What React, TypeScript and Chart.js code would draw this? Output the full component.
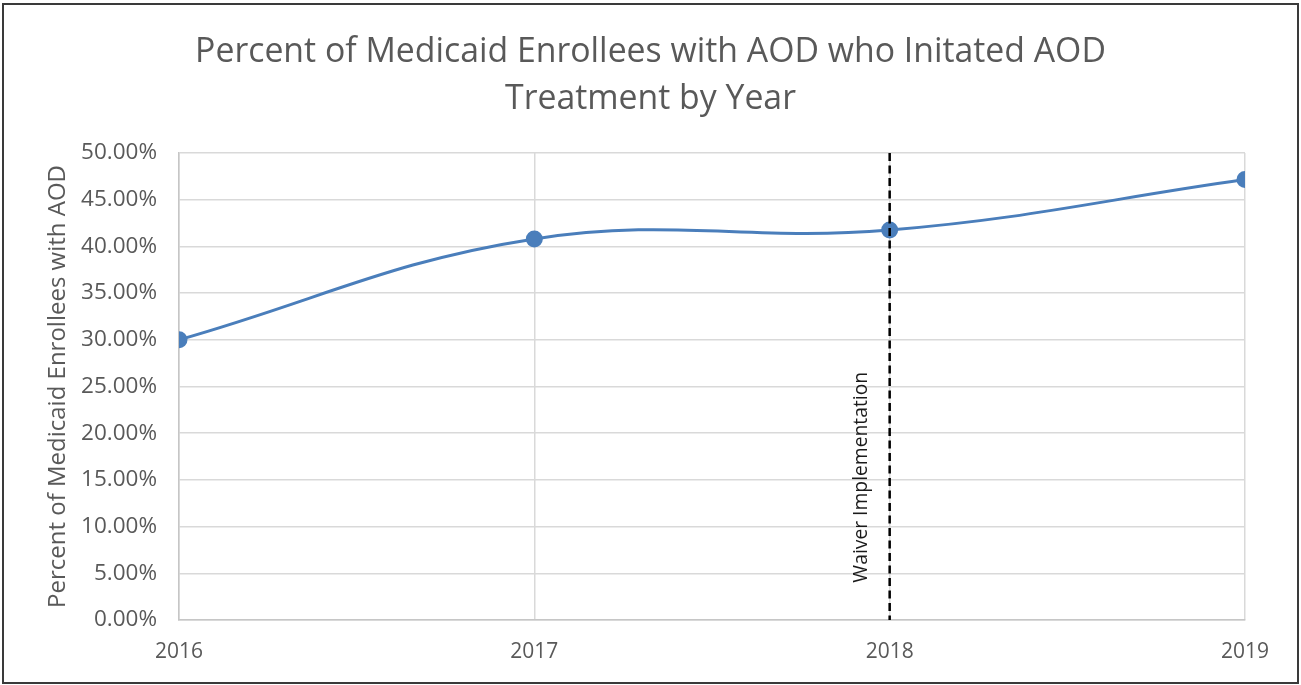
import React, { useEffect, useRef } from "react";
import { Chart, registerables } from "chart.js";

Chart.register(...registerables);

const years = [2016, 2017, 2018, 2019];
const initiationRates = [30.0, 40.8, 41.75, 47.15];
const yMin = 0;
const yMax = 50;
const yStep = 5;
const waiverYear = 2018;
const waiverLabel = "Waiver Implementation";
const waiverLabelStart = 4;
const titleLines = [
  "Percent of Medicaid Enrollees with AOD who Initated AOD",
  "Treatment by Year",
];
const yAxisTitle = "Percent of Medicaid Enrollees with AOD";

const FONT = "'Open Sans', Lato, sans-serif";
const TEXT = "#595959";
const LINE = "#4A7EBB";

const waiverPlugin = {
  id: "waiverLine",
  afterDatasetsDraw(chart: any) {
    const { ctx, chartArea, scales } = chart;
    const x = scales.x.getPixelForValue(waiverYear);
    ctx.save();
    ctx.strokeStyle = "#000";
    ctx.lineWidth = 2.5;
    ctx.setLineDash([8, 4.5]);
    ctx.beginPath();
    ctx.moveTo(x, chartArea.top);
    ctx.lineTo(x, chartArea.bottom);
    ctx.stroke();
    ctx.setLineDash([]);
    const y = scales.y.getPixelForValue(waiverLabelStart);
    ctx.translate(x - 28, y);
    ctx.rotate(-Math.PI / 2);
    ctx.fillStyle = "#1a1a1a";
    ctx.font = `19.3px ${FONT}`;
    ctx.textAlign = "left";
    ctx.textBaseline = "middle";
    ctx.fillText(waiverLabel, 0, 0);
    ctx.restore();
  },
};

export default function App() {
  const ref = useRef<HTMLCanvasElement | null>(null);

  useEffect(() => {
    if (!ref.current) return;
    const chart = new Chart(ref.current, {
      type: "line",
      data: {
        datasets: [
          {
            label: "Initiation",
            data: years.map((yr, i) => ({ x: yr, y: initiationRates[i] })),
            borderColor: LINE,
            backgroundColor: LINE,
            borderWidth: 3,
            pointRadius: 7,
            pointHoverRadius: 7,
            pointBackgroundColor: LINE,
            pointBorderColor: LINE,
            tension: 0.4,
            fill: false,
          },
        ],
      },
      options: {
        animation: false,
        responsive: true,
        maintainAspectRatio: false,
        layout: { padding: { left: 0, right: 0, top: 0, bottom: 0 } },
        plugins: {
          legend: { display: false },
          tooltip: { enabled: false },
          title: {
            display: true,
            text: titleLines,
            color: TEXT,
            font: { family: FONT, size: 33.8, weight: "normal", lineHeight: 1.39 },
            padding: { top: 23.5, bottom: 30.5 },
          },
        },
        scales: {
          x: {
            type: "linear",
            min: years[0],
            max: years[years.length - 1],
            afterFit: (s: any) => {
              s.height = 62;
            },
            ticks: {
              stepSize: 1,
              color: TEXT,
              font: { family: FONT, size: 21 },
              padding: 19,
              callback: (v: any) => String(v),
            },
            grid: { color: "#d9d9d9", lineWidth: 1.5, drawTicks: false },
            border: { display: true, color: "#c6c6c6", width: 1.5 },
          },
          y: {
            min: yMin,
            max: yMax,
            afterFit: (s: any) => {
              s.width = 175;
            },
            ticks: {
              stepSize: yStep,
              color: TEXT,
              font: { family: FONT, size: 22.5 },
              padding: 22,
              callback: (v: any) => Number(v).toFixed(2) + "%",
            },
            title: {
              display: true,
              text: yAxisTitle,
              color: TEXT,
              font: { family: FONT, size: 24 },
              padding: { top: 40, bottom: 0 },
            },
            grid: { color: "#d9d9d9", lineWidth: 1.5, drawTicks: false },
            border: { display: true, color: "#c6c6c6", width: 1.5 },
          },
          yRight: {
            position: "right",
            min: yMin,
            max: yMax,
            afterFit: (s: any) => {
              s.width = 52;
            },
            ticks: { display: false },
            grid: { display: false, drawTicks: false },
            border: { display: false },
          },
        },
      },
      plugins: [waiverPlugin],
    });
    return () => chart.destroy();
  }, []);

  return (
    <div
      style={{
        position: "absolute",
        left: 2,
        top: 3,
        width: 1297,
        height: 681,
        border: "2px solid #3a3a3a",
        boxSizing: "border-box",
        background: "#fff",
      }}
    >
      <div style={{ position: "relative", width: "100%", height: "100%" }}>
        <canvas ref={ref} />
      </div>
    </div>
  );
}
